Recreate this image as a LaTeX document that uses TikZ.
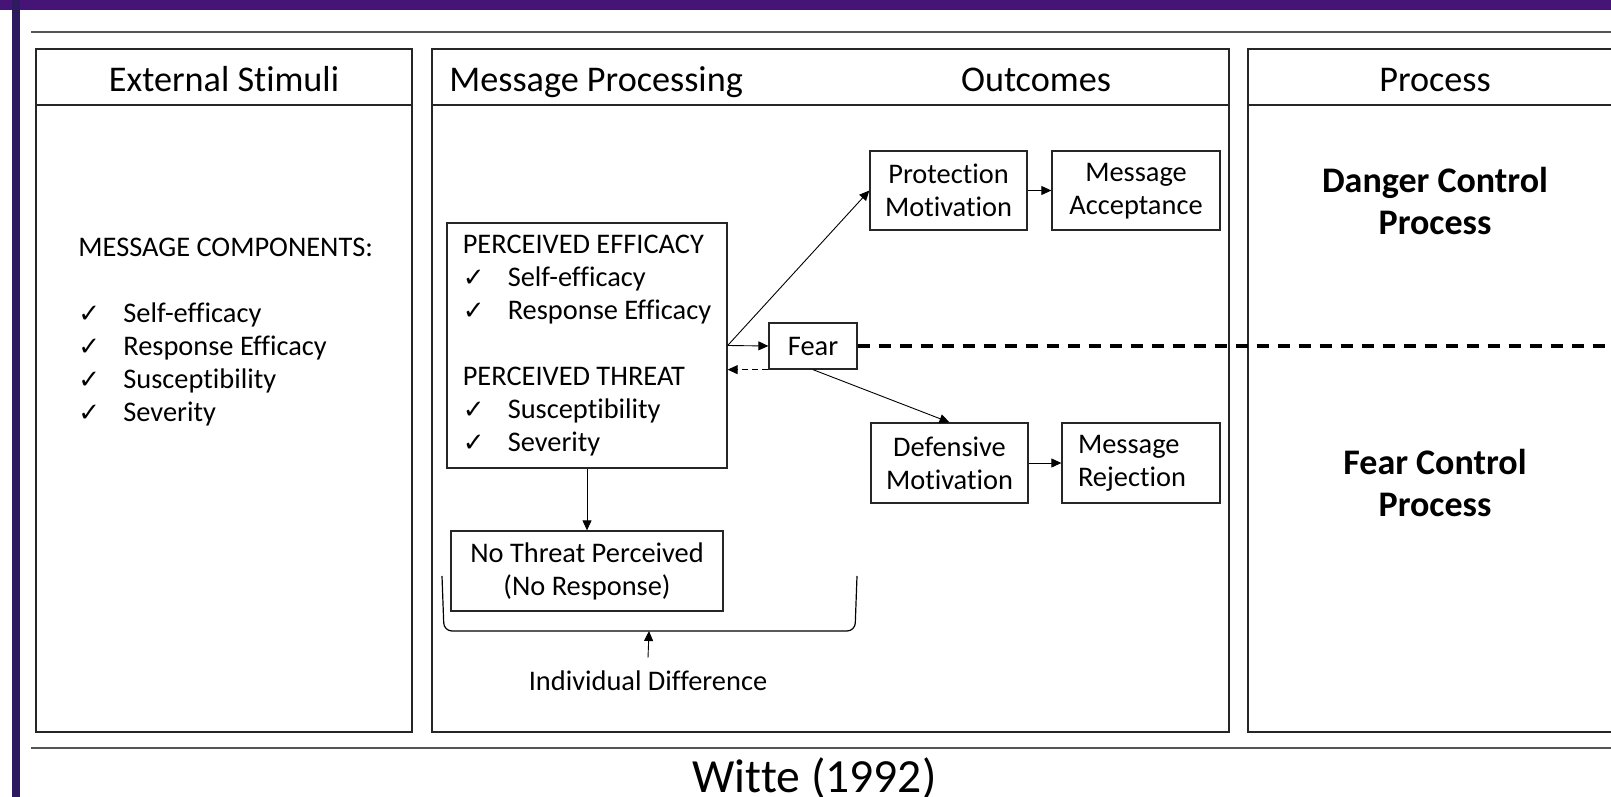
\documentclass[tikz,border=0pt]{standalone}
\usepackage{fontspec}
\setmainfont{Carlito}[Ligatures=NoCommon]
\newfontfamily\chkfont{DejaVu Sans}
\usetikzlibrary{arrows.meta}

\definecolor{barpurple}{RGB}{46,26,94}
\definecolor{bartop}{RGB}{70,20,118}
\definecolor{rulegray}{RGB}{85,85,85}

\newcommand{\chk}{\makebox[22.5pt][l]{\chkfont\fontsize{13}{13}\selectfont ✓}}

\tikzset{
  panel/.style={draw=black!85, line width=0.8pt},
  hdr/.style={inner sep=0pt, anchor=base, font=\fontsize{18.1}{21}\selectfont},
  body/.style={font=\fontsize{14.2}{16.5}\selectfont},
  box/.style={draw=black!85, line width=0.65pt, body, inner sep=0pt, align=center},
  bigtxt/.style={font=\bfseries\fontsize{18}{21}\selectfont, align=center},
  arr/.style={-{Triangle[length=5pt,width=4.5pt]}, line width=0.45pt},
}

\begin{document}
\begin{tikzpicture}[x=0.5pt, y=-0.5pt]
\clip (0,0) rectangle (1611,797);
\fill[white] (0,0) rectangle (1611,797);
\fill[bartop] (0,0) rectangle (1611,10);
\fill[barpurple] (12,0) rectangle (20,797);

% rules and panels
\draw[rulegray, line width=1pt] (31,32) -- (1611,32);
\draw[rulegray, line width=1.3pt] (31,748) -- (1611,748);
\draw[panel] (36,49) rectangle (412,732);
\draw[panel] (36,105) -- (412,105);
\draw[panel] (432,49) rectangle (1229,732);
\draw[panel] (432,105) -- (1229,105);
\draw[panel] (1248,49) rectangle (1640,732);
\draw[panel] (1248,105) -- (1640,105);

\node[hdr] (extHd) at (224,91) {External Stimuli};
\node[hdr, anchor=base west] (msgHd) at (449,91) {Message Processing};
\node[hdr] (outHd) at (1036,91) {Outcomes};
\node[hdr] (procHd) at (1435,91) {Process};

\node[body, anchor=west, align=left, inner sep=0pt] (comps) at (78,332)
  {MESSAGE COMPONENTS:\\[16.5pt]
   \chk Self-efficacy\\ \chk Response Efficacy\\ \chk Susceptibility\\ \chk Severity};

\node[box, align=left, minimum width=140pt, minimum height=122.5pt] (perc) at (587,345.5)
  {PERCEIVED EFFICACY\\ \chk Self-efficacy\\ \chk Response Efficacy\\[16.5pt]
   PERCEIVED THREAT\\ \chk Susceptibility\\ \chk Severity};
\node[box, minimum width=44pt, minimum height=23pt] (fear) at (813,346) {Fear};
\node[box, minimum width=78.5pt, minimum height=39.5pt] (prot) at (948.5,190.5) {Protection\\Motivation};
\node[box, minimum width=84pt, minimum height=39.5pt] (acc) at (1136,190.5) {\rule{0pt}{10pt}Message\\Acceptance};
\node[box, minimum width=78.5pt, minimum height=40pt] (def) at (949.5,463) {Defensive\\Motivation};
\node[box, align=left, text width=63pt, minimum width=79pt, minimum height=40pt] (rej) at (1141,463) {Message\\Rejection};
\node[box, minimum width=136pt, minimum height=40pt] (nothr) at (587,571) {No Threat Perceived\\(No Response)};
\node[body, inner sep=0pt] (indiv) at (648,681) {Individual Difference};

\node[bigtxt] (dcp) at (1435,201) {Danger Control\\Process};
\node[bigtxt] (fcp) at (1435,483) {Fear Control\\Process};

\node[inner sep=0pt, anchor=base, font=\fontsize{23.8}{27}\selectfont] (src) at (814.5,792) {Witte (1992)};

\coordinate (brk) at (649,631);
\coordinate (rim) at (1625,346);

% connectors
\draw[arr] (perc.east) -- (fear.west);
\draw[arr, dash pattern=on 3pt off 2pt] (fear.south west) -- (perc.east |- fear.south west);
\draw[arr] (perc.east) -- (prot.west);
\draw[arr] (prot.east) -- (acc.west);
\draw[arr] (fear.south) -- (def.north);
\draw[arr] (def.east) -- (rej.west);
\draw[arr] (perc.south) -- (nothr.north);
\draw[line width=1.7pt, dash pattern=on 6pt off 4.5pt] (fear.east) -- (rim);
\draw[line width=0.6pt, rounded corners=4pt] (442,576) -- (444,631) -- (brk) -- (855,631) -- (857,576);
\draw[arr] ([yshift=6.5pt]indiv.north) -- (brk);
\end{tikzpicture}
\end{document}
